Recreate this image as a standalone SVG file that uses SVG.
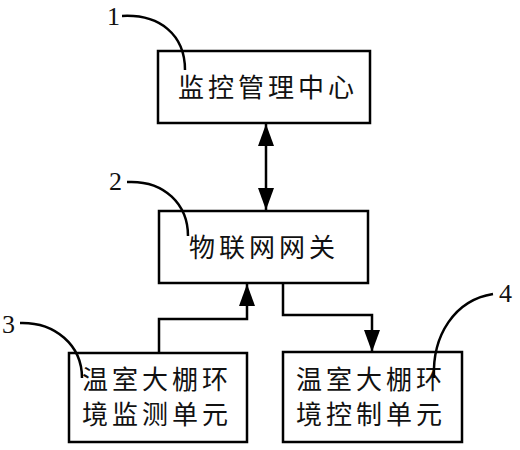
<svg xmlns="http://www.w3.org/2000/svg" width="520" height="450" viewBox="0 0 520 450">
<style>
.box{fill:#fff;stroke:#000;stroke-width:2.5}
.t{font-family:"Noto Sans CJK SC","Noto Sans CJK JP",sans-serif;font-size:26px;fill:#111;letter-spacing:4px}
.n{font-family:"Liberation Serif",serif;font-size:26px;fill:#111}
.ln{fill:none;stroke:#000;stroke-width:2.5}
.ld{fill:none;stroke:#000;stroke-width:2.5}
</style>
<defs>
<marker id="ah" viewBox="0 0 10 10" refX="10" refY="5" markerWidth="10" markerHeight="10" markerUnits="userSpaceOnUse" orient="auto-start-reverse">
<path d="M0,0 L10,5 L0,10 z" fill="#000"/>
</marker>
<marker id="ah2" viewBox="0 0 22 16" refX="22" refY="8" markerWidth="22" markerHeight="16" markerUnits="userSpaceOnUse" orient="auto-start-reverse">
<path d="M0,0 L22,8 L0,16 z" fill="#000"/>
</marker>
</defs>
<g id="connectors">
<line class="ln" x1="266" y1="124" x2="266" y2="210" marker-start="url(#ah2)" marker-end="url(#ah2)"/>
<polyline class="ln" points="159,353 159,319 247,319 247,284" marker-end="url(#ah2)"/>
<polyline class="ln" points="283,284 283,315 372,315 372,352" marker-end="url(#ah2)"/>
</g>
<g id="node1">
<rect class="box" x="158" y="51" width="212" height="72"/>
<text class="t" x="178" y="97">监控管理中心</text>
</g>
<g id="node2">
<rect class="box" x="159" y="211" width="209" height="72"/>
<text class="t" x="189" y="257">物联网网关</text>
</g>
<g id="node3">
<rect class="box" x="69" y="353" width="178" height="89"/>
<text class="t" x="82" y="389">温室大棚环</text>
<text class="t" x="82" y="424">境监测单元</text>
</g>
<g id="node4">
<rect class="box" x="283" y="352" width="179" height="90"/>
<text class="t" x="296" y="389">温室大棚环</text>
<text class="t" x="296" y="424">境控制单元</text>
</g>
<g id="labels">
<text class="n" x="107" y="25">1</text>
<path class="ld" d="M122,16 C160,14 185,35 185,70"/>
<text class="n" x="109" y="190">2</text>
<path class="ld" d="M127,182 C165,180 188,205 188,236"/>
<text class="n" x="2" y="333">3</text>
<path class="ld" d="M20,323 C55,322 82,345 82,378"/>
<text class="n" x="499" y="302">4</text>
<path class="ld" d="M493,294 C455,300 432,335 434,378"/>
</g>
</svg>
